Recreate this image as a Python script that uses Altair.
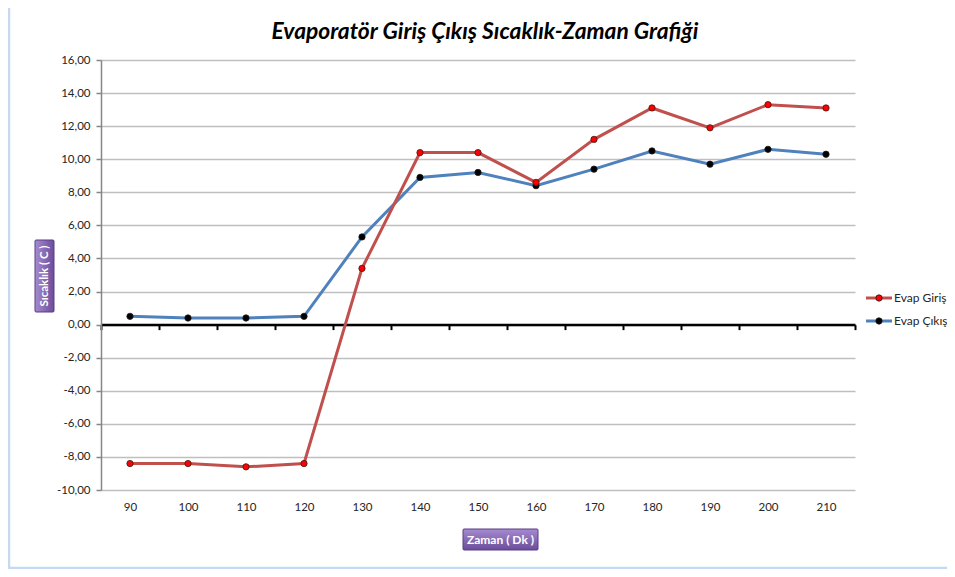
import altair as alt
import pandas as pd

# ---- data ----
zaman = [90, 100, 110, 120, 130, 140, 150, 160, 170, 180, 190, 200, 210]
evap_giris = [-8.4, -8.4, -8.6, -8.4, 3.4, 10.4, 10.4, 8.6, 11.2, 13.1, 11.9, 13.3, 13.1]
evap_cikis = [0.5, 0.4, 0.4, 0.5, 5.3, 8.9, 9.2, 8.4, 9.4, 10.5, 9.7, 10.6, 10.3]
series = ["Evap Giriş", "Evap Çıkış"]
line_colors = ["#c0504d", "#4f81bd"]
marker_fills = ["#ff0000", "#000000"]
y_ticks = list(range(-10, 17, 2))
x_bounds = list(range(85, 216, 10))
title_text = "Evaporatör Giriş Çıkış Sıcaklık-Zaman Grafiği"

W, H = 754, 430
FONT = "Lato"

df_g = pd.DataFrame({"Zaman": zaman, "Sicaklik": evap_giris})
df_c = pd.DataFrame({"Zaman": zaman, "Sicaklik": evap_cikis})
df_leg = pd.DataFrame({"seri": series, "renk": line_colors, "dolgu": marker_fills})
one = pd.DataFrame({"k": [0]})

x_scale = alt.Scale(domain=[85, 215], nice=False, zero=False)
y_scale = alt.Scale(domain=[-10, 16], nice=False, zero=False)

label_expr = "(datum.value < 0 ? '-' : '') + replace(format(abs(datum.value), '.2f'), '.', ',')"

x_main = alt.X("Zaman:Q", scale=x_scale,
               axis=alt.Axis(orient="bottom", values=zaman, title=None, domain=False,
                             ticks=False, grid=False, labelFontSize=11.5, labelColor="#262626",
                             labelFont=FONT, labelPadding=11))
x_none = alt.X("Zaman:Q", scale=x_scale, axis=None)
y_main = alt.Y("Sicaklik:Q", scale=y_scale,
               axis=alt.Axis(values=y_ticks, title=None, labelExpr=label_expr,
                             domainColor="#868686", domainWidth=1.5, tickColor="#868686",
                             tickSize=5, tickWidth=1.5, gridColor="#bfbfbf", gridWidth=1.5,
                             labelFontSize=11.5, labelColor="#262626", labelFont=FONT,
                             labelPadding=6))
y_none = alt.Y("Sicaklik:Q", scale=y_scale, axis=None)

blue_line = alt.Chart(df_c).mark_line(color=line_colors[1], strokeWidth=3).encode(x=x_main, y=y_main)
zero_axis = alt.Chart(df_c).mark_point(opacity=0).encode(
    x=alt.X("Zaman:Q", scale=x_scale,
            axis=alt.Axis(orient="bottom", values=x_bounds, labels=False, title=None, grid=False,
                          domainColor="#000000", domainWidth=2.5, tickColor="#000000",
                          tickWidth=2, tickSize=5, offset=-H * 10 / 26)),
    y=y_none)
red_line = alt.Chart(df_g).mark_line(color=line_colors[0], strokeWidth=3).encode(x=x_none, y=y_none)
blue_pts = alt.Chart(df_c).mark_point(filled=True, size=40, fill=marker_fills[1], stroke="#1a1a1a",
                                      strokeWidth=0.8, opacity=1).encode(x=x_none, y=y_none)
red_pts = alt.Chart(df_g).mark_point(filled=True, size=40, fill=marker_fills[0], stroke="#3a1a1a",
                                     strokeWidth=0.8, opacity=1).encode(x=x_none, y=y_none)

# legend
leg_y = alt.Y("seri:O", scale=alt.Scale(type="point", domain=series, range=[238, 261], padding=0),
              axis=None)
leg_line = alt.Chart(df_leg).mark_rule(strokeWidth=3).encode(
    x=alt.value(765), x2=alt.value(791), y=leg_y,
    color=alt.Color("renk:N", scale=None, legend=None))
leg_pt = alt.Chart(df_leg).mark_point(filled=True, size=40, stroke="#1a1a1a", strokeWidth=0.8, opacity=1).encode(
    x=alt.value(778), y=leg_y, fill=alt.Fill("dolgu:N", scale=None, legend=None))
leg_txt = alt.Chart(df_leg).mark_text(align="left", baseline="middle", font=FONT, fontSize=12,
                                      color="#262626").encode(
    x=alt.value(793), y=leg_y, text="seri:N")

# title as text
title_mark = alt.Chart(one).mark_text(text=title_text, font=FONT, fontSize=22.8, fontStyle="italic",
                                      fontWeight="bold", color="#000000", align="center",
                                      baseline="middle").encode(
    x=alt.value(384), y=alt.value(-28))

# axis title boxes
ybox = alt.Chart(one).mark_rect(
    fill=alt.Gradient(gradient="linear", x1=0, y1=0, x2=1, y2=0,
                      stops=[alt.GradientStop(color="#a58bd0", offset=0),
                             alt.GradientStop(color="#6b4c9a", offset=1)]),
    stroke="#5a3f85", strokeWidth=1, cornerRadius=1).encode(
    x=alt.value(-66), x2=alt.value(-47), y=alt.value(180), y2=alt.value(252))
ytxt = alt.Chart(one).mark_text(text="Sıcaklık ( C )", angle=270, font=FONT, fontSize=11.5,
                                fontWeight="bold", color="#ffffff", baseline="middle",
                                align="center").encode(x=alt.value(-56), y=alt.value(216))
xbox = alt.Chart(one).mark_rect(
    fill=alt.Gradient(gradient="linear", x1=0, y1=0, x2=0, y2=1,
                      stops=[alt.GradientStop(color="#a58bd0", offset=0),
                             alt.GradientStop(color="#6b4c9a", offset=1)]),
    stroke="#5a3f85", strokeWidth=1, cornerRadius=1).encode(
    x=alt.value(362), x2=alt.value(437), y=alt.value(469), y2=alt.value(490))
xtxt = alt.Chart(one).mark_text(text="Zaman ( Dk )", font=FONT, fontSize=12, fontWeight="bold",
                                color="#ffffff", baseline="middle", align="center").encode(
    x=alt.value(399.5), y=alt.value(480))

border = alt.Chart(one).mark_rect(fill=None, stroke="#c6d9f1", strokeWidth=2.5).encode(
    x=alt.value(-92), x2=alt.value(849), y=alt.value(-54), y2=alt.value(508))

chart = alt.layer(
    border, blue_line, zero_axis, red_line, blue_pts, red_pts,
    leg_line, leg_pt, leg_txt, title_mark, ybox, ytxt, xbox, xtxt
).resolve_scale(y="independent").resolve_axis(x="independent").properties(
    width=W, height=H,
    autosize=alt.AutoSizeParams(type="none"),
    padding={"left": 93, "top": 52, "right": 92, "bottom": 79},
).configure_view(stroke=None)

chart.save("out.html", embed_options={"renderer": "svg", "actions": False})
